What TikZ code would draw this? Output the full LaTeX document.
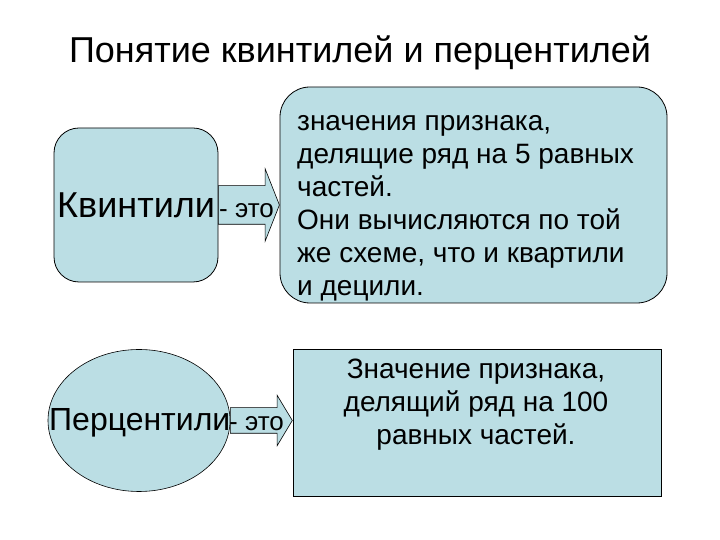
\documentclass[tikz,border=0pt]{standalone}
\usepackage{fontspec}
\setmainfont{Liberation Sans}
\usetikzlibrary{shapes.geometric}
\usetikzlibrary{shapes.arrows}
\definecolor{qblue}{RGB}{187,222,228}
\tikzset{
    qbox/.style = {rectangle, draw=black, line width=0.8pt, fill=qblue, inner sep=0pt},
    qround/.style = {qbox, rounded corners=#1},
    qoval/.style = {ellipse, draw=black, line width=0.6pt, fill=qblue, inner sep=0pt},
    barrow/.style = {single arrow, draw=black, line width=0.6pt, fill=qblue, inner xsep=0pt, outer sep=0pt, anchor=tail},
    txt/.style = {inner sep=0pt, text=black},
    bigtxt/.style = {txt, font=\fontsize{36}{40}\selectfont},
    midtxt/.style = {txt, font=\fontsize{32}{36}\selectfont},
    eto/.style = {txt, font=\fontsize{26}{30}\selectfont},
    deftxt/.style = {txt, font=\fontsize{28}{33}\selectfont}
}
\begin{document}
\begin{tikzpicture}[x=1pt,y=1pt]
\useasboundingbox (0,0) rectangle (720,540);
%
\node[txt, font=\fontsize{36}{40}\selectfont, anchor=base] (title) at (360,477) {Понятие квинтилей и перцентилей};
%
\node[qround=25pt, minimum width=164pt, minimum height=154pt] (kvbox) at (136,335) {};
\node[qround=30pt, minimum width=387pt, minimum height=216pt] (kvdef) at (473.5,345) {};
\node[barrow, minimum height=61pt, inner ysep=19pt, single arrow head extend=17pt, single arrow tip angle=137] (kvarr) at (kvbox.east) {};
\node[bigtxt, anchor=base west] (kv) at (57,322) {Квинтили};
\node[eto, anchor=base west] (kveto) at (219,322) {- это};
% base = last line
\node[deftxt, align=left, anchor=base west] (kvtext) at (297,244) {значения признака,\\делящие ряд на 5 равных\\частей.\\Они вычисляются по той\\же схеме, что и квартили\\и децили.};
%
\node[qoval, minimum width=182pt, minimum height=142pt] (pcbox) at (139,119.5) {};
\node[qbox, minimum width=368pt, minimum height=147pt] (pcdef) at (477,117.5) {};
\node[barrow, minimum height=62pt, inner ysep=12.5pt, single arrow head extend=12.5pt, single arrow tip angle=118] (pcarr) at (pcbox.east) {};
\node[midtxt, anchor=base west] (pc) at (49,109) {Перцентили};
\node[eto, anchor=base west] (pceto) at (229,109) {- это};
\node[deftxt, align=center, anchor=base] (pctext) at (476,95) {Значение признака,\\делящий ряд на 100\\равных частей.};
\end{tikzpicture}
\end{document}
